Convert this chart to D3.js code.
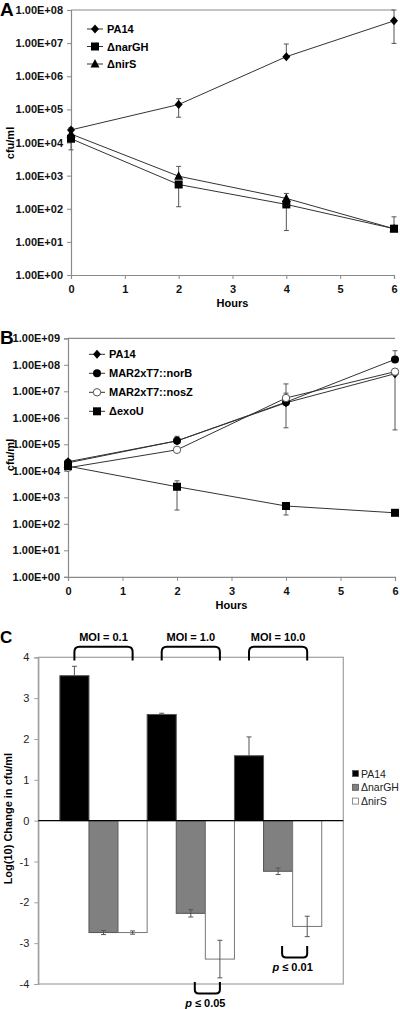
<!DOCTYPE html>
<html><head><meta charset="utf-8">
<script src="https://cdn.jsdelivr.net/npm/d3@7"></script>
<style>body{margin:0;background:#fff}svg{display:block;font-family:Arial,"Liberation Sans",sans-serif}</style>
</head><body><svg id="c" width="400" height="1009"></svg>
<script>
// ---- Data ----
const hours = [0, 2, 4, 6];
const hourTicks = [0, 1, 2, 3, 4, 5, 6];
const logTicksA = [1e0,1e1,1e2,1e3,1e4,1e5,1e6,1e7,1e8];
const logTicksB = [1e0,1e1,1e2,1e3,1e4,1e5,1e6,1e7,1e8,1e9];

const aNames = ["PA14", "ΔnarGH", "ΔnirS"];
const aPA14  = [2.4e4, 1.4e5, 3.9e6, 4.7e7];
const aPA14Lo = [2.4e4, 5.8e4, 3.9e6, 9.8e6];
const aPA14Hi = [2.8e4, 2.1e5, 9.4e6, 1.0e8];
const aNar   = [1.3e4, 540, 135, 25];
const aNarLo = [6.0e3, 115, 22, 25];
const aNarHi = [1.3e4, 540, 135, 25];
const aNir   = [1.8e4, 960, 205, 25];
const aNirLo = [1.8e4, 960, 205, 25];
const aNirHi = [1.8e4, 1.9e3, 290, 57];

const bNames = ["PA14", "MAR2xT7::norB", "MAR2xT7::nosZ", "ΔexoU"];
const bPA14  = [2.2e4, 1.35e5, 3.7e6, 4.6e7];
const bPA14Lo = [2.2e4, 1.35e5, 4.2e5, 3.5e5];
const bPA14Hi = [2.2e4, 2.0e5, 1.9e7, 4.6e7];
const bNorB  = [2.0e4, 1.35e5, 3.9e6, 1.6e8];
const bNorBLo = [2.0e4, 1.35e5, 3.9e6, 1.6e8];
const bNorBHi = [2.0e4, 1.35e5, 3.9e6, 3.4e8];
const bNosZ  = [1.3e4, 6.2e4, 5.6e6, 5.5e7];
const bNosZLo = [1.3e4, 6.2e4, 5.6e6, 5.5e7];
const bNosZHi = [1.3e4, 6.2e4, 8.5e6, 5.5e7];
const bExoU  = [1.5e4, 2.5e3, 470, 260];
const bExoULo = [1.5e4, 330, 215, 260];
const bExoUHi = [1.5e4, 4.2e3, 600, 260];

const cGroups = ["MOI = 0.1", "MOI = 1.0", "MOI = 10.0"];
const cSeries = ["PA14", "ΔnarGH", "ΔnirS"];
const cPA14 = [3.55, 2.60, 1.59];
const cNar  = [-2.74, -2.27, -1.24];
const cNir  = [-2.74, -3.39, -2.59];
const cPA14Err = [0.23, 0.03, 0.46];
const cNarErr  = [0.05, 0.09, 0.08];
const cNirErr  = [0.04, 0.46, 0.25];
const cTicks = [-4,-3,-2,-1,0,1,2,3,4];

// ---- Helpers ----
const svg = d3.select("#c");
const LINE = "#333", AX = "#8a8a8a", ERR = "#555";
const fmtE = v => { const e = Math.round(Math.log10(v)); return "1.00E+" + String(e).padStart(2,"0"); };

function marker(g, type, x, y) {
  if (type === "diamond") g.append("path").attr("d", `M${x},${y-4.5}L${x+4},${y}L${x},${y+4.5}L${x-4},${y}Z`).attr("fill","#000");
  else if (type === "square") g.append("rect").attr("x", x-4).attr("y", y-4).attr("width", 8).attr("height", 8).attr("fill","#000");
  else if (type === "triangle") g.append("path").attr("d", `M${x},${y-5}L${x+4.5},${y+3.5}L${x-4.5},${y+3.5}Z`).attr("fill","#000");
  else if (type === "circle") g.append("circle").attr("cx", x).attr("cy", y).attr("r", 4).attr("fill","#000");
  else if (type === "ocircle") {
    g.append("circle").attr("cx", x).attr("cy", y).attr("r", 3.7).attr("fill","#fff").attr("stroke","#555").attr("stroke-width",1);
  }
}

function linePanel(cfg) {
  const g = svg.append("g");
  const x = d3.scaleLinear().domain([0, 6]).range([cfg.x0, cfg.x1]);
  const y = d3.scaleLog().domain(cfg.ydom).range([cfg.y1, cfg.y0]);
  g.append("line").attr("x1", cfg.x0).attr("x2", cfg.x1).attr("y1", cfg.y0).attr("y2", cfg.y0).attr("stroke", AX).attr("stroke-width", 1.2);
  const ya = g.append("g").attr("transform", `translate(${cfg.x0},0)`)
    .call(d3.axisLeft(y).tickValues(cfg.ticks).tickFormat(fmtE).tickSize(4).tickPadding(4));
  ya.select(".domain").attr("stroke", AX).attr("stroke-width", 1.2);
  ya.selectAll(".tick line").attr("stroke", AX);
  ya.selectAll("text").attr("font-size", 11).attr("font-weight", "bold").attr("fill", "#111");
  const xa = g.append("g").attr("transform", `translate(0,${cfg.y1})`)
    .call(d3.axisBottom(x).tickValues(hourTicks).tickFormat(d => String(d)).tickSize(4).tickPadding(6));
  xa.select(".domain").attr("stroke", AX).attr("stroke-width", 1.2);
  xa.selectAll(".tick line").attr("stroke", AX);
  xa.selectAll("text").attr("font-size", 11).attr("font-weight", "bold").attr("fill", "#111");
  g.append("text").attr("x", (cfg.x0+cfg.x1)/2).attr("y", cfg.y1 + 32).attr("text-anchor","middle")
    .attr("font-size", 11).attr("font-weight","bold").text("Hours");
  g.append("text").attr("transform", `translate(14,${cfg.ylabY}) rotate(-90)`).attr("text-anchor","middle")
    .attr("font-size", 11).attr("font-weight","bold").text("cfu/ml");
  g.append("text").attr("x", 0).attr("y", cfg.y0 + 6).attr("font-size", 19).attr("font-weight","bold").text(cfg.letter);
  const line = d3.line().x((d,i) => x(hours[i])).y(d => y(d));
  cfg.series.forEach(s => {
    g.append("path").datum(s.v).attr("d", line).attr("fill","none").attr("stroke", LINE).attr("stroke-width", 1);
  });
  cfg.series.forEach(s => {
    s.v.forEach((v,i) => {
      const lo = s.lo[i], hi = s.hi[i], cx = x(hours[i]);
      if (hi > v * 1.01) {
        g.append("line").attr("x1",cx).attr("x2",cx).attr("y1",y(v)).attr("y2",y(hi)).attr("stroke",ERR);
        g.append("line").attr("x1",cx-2.5).attr("x2",cx+2.5).attr("y1",y(hi)).attr("y2",y(hi)).attr("stroke",ERR);
      }
      if (lo < v * 0.99) {
        g.append("line").attr("x1",cx).attr("x2",cx).attr("y1",y(v)).attr("y2",y(lo)).attr("stroke",ERR);
        g.append("line").attr("x1",cx-2.5).attr("x2",cx+2.5).attr("y1",y(lo)).attr("y2",y(lo)).attr("stroke",ERR);
      }
    });
  });
  cfg.series.forEach(s => s.v.forEach((v,i) => marker(g, s.m, x(hours[i]), y(v))));
  cfg.series.forEach((s,i) => {
    const ly = cfg.legY + i * cfg.legStep;
    g.append("line").attr("x1", cfg.legX).attr("x2", cfg.legX + 16).attr("y1", ly).attr("y2", ly).attr("stroke", LINE);
    marker(g, s.m, cfg.legX + 8, ly);
    g.append("text").attr("x", cfg.legX + 20).attr("y", ly + 4).attr("font-size", 11).attr("font-weight","bold").text(s.name);
  });
}

linePanel({
  letter: "A", x0: 71, x1: 394, y0: 10, y1: 275, ydom: [1e0, 1e8], ticks: logTicksA, ylabY: 143,
  legX: 87, legY: 29, legStep: 17.5,
  series: [
    {name: aNames[0], v: aPA14, lo: aPA14Lo, hi: aPA14Hi, m: "diamond"},
    {name: aNames[1], v: aNar, lo: aNarLo, hi: aNarHi, m: "square"},
    {name: aNames[2], v: aNir, lo: aNirLo, hi: aNirHi, m: "triangle"}
  ]
});

linePanel({
  letter: "B", x0: 68, x1: 395, y0: 338.3, y1: 576.8, ydom: [1e0, 1e9], ticks: logTicksB, ylabY: 455,
  legX: 89, legY: 354.3, legStep: 19,
  series: [
    {name: bNames[0], v: bPA14, lo: bPA14Lo, hi: bPA14Hi, m: "diamond"},
    {name: bNames[1], v: bNorB, lo: bNorBLo, hi: bNorBHi, m: "circle"},
    {name: bNames[2], v: bNosZ, lo: bNosZLo, hi: bNosZHi, m: "ocircle"},
    {name: bNames[3], v: bExoU, lo: bExoULo, hi: bExoUHi, m: "square"}
  ]
});

// ---- Panel C ----
(function(){
  const g = svg.append("g");
  const X0 = 38.3, X1 = 343.3, Y0 = 657.3, Y1 = 984;
  const y = d3.scaleLinear().domain([-4, 4]).range([Y1, Y0]);
  const x = d3.scaleBand().domain(cGroups).range([X0, X1]).paddingInner(0).paddingOuter(0.247);
  const xs = d3.scaleBand().domain(cSeries).range([0, x.bandwidth()]).padding(0);
  const vals = [cPA14, cNar, cNir], errs = [cPA14Err, cNarErr, cNirErr];
  const fills = ["#000", "#808080", "#fff"], strokes = ["#555", "#555", "#777"];

  g.append("rect").attr("x", X0).attr("y", Y0).attr("width", X1-X0).attr("height", Y1-Y0)
    .attr("fill","none").attr("stroke", "#a0a0a0").attr("stroke-width", 1.2);
  const ya = g.append("g").attr("transform", `translate(${X0},0)`)
    .call(d3.axisLeft(y).tickValues(cTicks).tickFormat(d => String(d)).tickSize(4).tickPadding(5));
  ya.select(".domain").attr("stroke", "#a0a0a0").attr("stroke-width", 1.2);
  ya.selectAll(".tick line").attr("stroke", "#a0a0a0");
  ya.selectAll("text").attr("font-size", 11).attr("fill", "#222");

  cSeries.forEach((s, si) => {
    cGroups.forEach((grp, gi) => {
      const v = vals[si][gi];
      const bx = x(grp) + xs(s);
      g.append("rect").attr("x", bx).attr("y", y(Math.max(0, v))).attr("width", xs.bandwidth())
        .attr("height", Math.abs(y(v) - y(0))).attr("fill", fills[si]).attr("stroke", strokes[si]).attr("stroke-width", 1);
    });
  });
  g.append("line").attr("x1", X0).attr("x2", X1).attr("y1", y(0)).attr("y2", y(0)).attr("stroke","#000").attr("stroke-width",1.2);
  cSeries.forEach((s, si) => {
    cGroups.forEach((grp, gi) => {
      const v = vals[si][gi], e = errs[si][gi];
      const cx = x(grp) + xs(s) + xs.bandwidth()/2;
      const a = si === 0 ? v : v - e, b = v + e;
      g.append("line").attr("x1",cx).attr("x2",cx).attr("y1",y(a)).attr("y2",y(b)).attr("stroke",ERR);
      g.append("line").attr("x1",cx-2.5).attr("x2",cx+2.5).attr("y1",y(b)).attr("y2",y(b)).attr("stroke",ERR);
      if (si !== 0) g.append("line").attr("x1",cx-2.5).attr("x2",cx+2.5).attr("y1",y(a)).attr("y2",y(a)).attr("stroke",ERR);
    });
  });
  const cen = (grp, s) => x(grp) + xs(s) + xs.bandwidth()/2;
  cGroups.forEach(grp => {
    const a = cen(grp, cSeries[0]), b = cen(grp, cSeries[2]);
    const yt = y(4.26), yb = y(3.92), r = 5;
    g.append("path").attr("d", `M${a},${yb}L${a},${yt+r}Q${a},${yt} ${a+r},${yt}L${b-r},${yt}Q${b},${yt} ${b},${yt+r}L${b},${yb}`)
      .attr("fill","none").attr("stroke","#000").attr("stroke-width",2);
    g.append("text").attr("x", (a+b)/2).attr("y", yt - 6).attr("text-anchor","middle")
      .attr("font-size", 11).attr("font-weight","bold").text(grp);
  });
  const sig = [{grp: cGroups[1], top: -3.95, bot: -4.23, label: " ≤ 0.05"}, {grp: cGroups[2], top: -3.07, bot: -3.35, label: " ≤ 0.01"}];
  sig.forEach(sg => {
    const a = cen(sg.grp, cSeries[1]) + 4, b = cen(sg.grp, cSeries[2]);
    const yt = y(sg.top), yb = y(sg.bot), r = 4;
    g.append("path").attr("d", `M${a},${yt}L${a},${yb-r}Q${a},${yb} ${a+r},${yb}L${b-r},${yb}Q${b},${yb} ${b},${yb-r}L${b},${yt}`)
      .attr("fill","none").attr("stroke","#000").attr("stroke-width",2);
    const t = g.append("text").attr("x", (a+b)/2 - 2).attr("y", yb + 14).attr("text-anchor","middle")
      .attr("font-size", 11).attr("font-weight","bold");
    t.append("tspan").attr("font-style","italic").text("p");
    t.append("tspan").text(sg.label);
  });
  g.append("text").attr("transform", `translate(12,${(Y0+Y1)/2 - 2}) rotate(-90)`).attr("text-anchor","middle")
    .attr("font-size", 11).attr("font-weight","bold").text("Log(10) Change in cfu/ml");
  g.append("text").attr("x", 0).attr("y", 643).attr("font-size", 17).attr("font-weight","bold").text("C");
  cSeries.forEach((s, i) => {
    const ly = 774 + i * 13.8;
    g.append("rect").attr("x", 352.5).attr("y", ly - 3.5).attr("width", 6).attr("height", 6)
      .attr("fill", fills[i]).attr("stroke", strokes[i]).attr("stroke-width", 0.8);
    g.append("text").attr("x", 361).attr("y", ly + 3.5).attr("font-size", 10.5).attr("fill","#222").text(s);
  });
})();
</script></body></html>
